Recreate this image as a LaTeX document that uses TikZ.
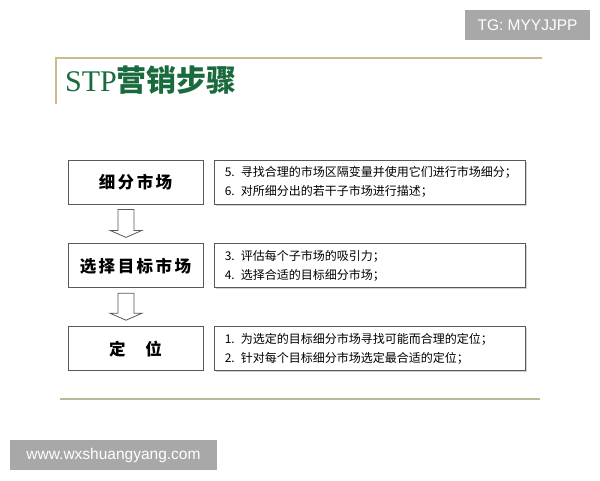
\documentclass[tikz,border=0pt]{standalone}
\usepackage{fontspec}
\setmainfont{Liberation Serif}
\setsansfont{Liberation Sans}
\newfontfamily\cjk{Noto Sans CJK SC}
\usetikzlibrary{shapes,arrows,positioning,calc,shadows}
\definecolor{titlegreen}{rgb}{.1,.42,.24}
\definecolor{rulegold}{rgb}{.8,.73,.55}
\definecolor{ruleolive}{rgb}{.73,.73,.6}
\definecolor{markgray}{rgb}{.66,.66,.66}
\definecolor{boxgray}{rgb}{.35,.35,.35}
\def\gap{\hspace{2.5pt}}
% hollow down arrow from one stage box to the next
\newcommand{\stepdown}[2]{%
	\draw[hollow] ($(#1.south)+(-17.5,5)$) -- ($(#1.south)+(-1.5,5)$)
		-- ($(#2.north)+(-1.5,-13)$) -- ($(#2.north)+(6.5,-13)$)
		-- ($(#2.north)+(-9.5,-6)$) -- ($(#2.north)+(-25.5,-13)$)
		-- ($(#2.north)+(-17.5,-13)$) -- cycle;}

\begin{document}
\begin{tikzpicture}[% pixel-like units, y grows downwards
			x=1pt,y=-1pt,
			every node/.style={inner sep=0pt},
			stage/.style={
				rectangle,draw=boxgray,line width=0.8pt,fill=white,
				minimum width=135pt,minimum height=44pt,
				font=\cjk\bfseries\fontsize{16.5pt}{19pt}\selectfont
			},
			detail/.style={
				rectangle,draw=boxgray,line width=0.8pt,fill=white,
				drop shadow={shadow xshift=1.5pt,shadow yshift=-1.5pt,fill=gray!70},
				minimum width=311pt,minimum height=44pt,
				text width=291pt,inner xsep=10pt,align=left,
				font=\cjk\fontsize{12pt}{19pt}\selectfont
			},
			hollow/.style={draw=boxgray,line width=0.8pt,fill=white},
			wmark/.style={fill=markgray,text=white,font=\sffamily\fontsize{15.5pt}{18pt}\selectfont}
		]
		\useasboundingbox (0,0) rectangle (600,480);
		\fill[white] (0,0) rectangle (600,480);
		% title frame
		\coordinate (T1) at (56,104);
		\coordinate (T2) at (56,58);
		\coordinate (T3) at (542,58);
		\draw[rulegold,line width=1.2pt] (T1) -- (T2) -- (T3);
		\node[anchor=west,text=titlegreen,font=\fontsize{30pt}{33pt}\selectfont](title) at (65,80){STP{\cjk\bfseries 营销步骤}};
		% stages
		\node[stage](seg) at (135.5,182){细\gap 分\gap 市\gap 场};
		\node[stage](tgt)[below=39pt of seg]{选\gap 择\gap 目\gap 标\gap 市\gap 场};
		\node[stage](pos)[below=38pt of tgt]{定\hspace{20pt}位};
		\node[detail](segtxt)[right=11pt of seg]{5.\hspace{6pt}寻找合理的市场区隔变量并使用它们进行市场细分；\\6.\hspace{6pt}对所细分出的若干子市场进行描述；};
		\node[detail](tgttxt)[right=11pt of tgt]{3.\hspace{6pt}评估每个子市场的吸引力；\\4.\hspace{6pt}选择合适的目标细分市场；};
		\node[detail](postxt)[right=11pt of pos]{1.\hspace{6pt}为选定的目标细分市场寻找可能而合理的定位；\\2.\hspace{6pt}针对每个目标细分市场选定最合适的定位；};
		\stepdown{seg}{tgt}
		\stepdown{tgt}{pos}
		% bottom rule
		\coordinate (B1) at (60,399);
		\coordinate (B2) at (540,399);
		\draw[ruleolive,line width=2.2pt] (B1) -- (B2);
		% watermarks
		\node[wmark,minimum width=125pt,minimum height=30pt](tg) at (527.5,25){TG: MYYJJPP};
		\node[wmark,minimum width=207pt,minimum height=30pt](web) at (113.5,455){www.wxshuangyang.com};
	\end{tikzpicture}
\end{document}
